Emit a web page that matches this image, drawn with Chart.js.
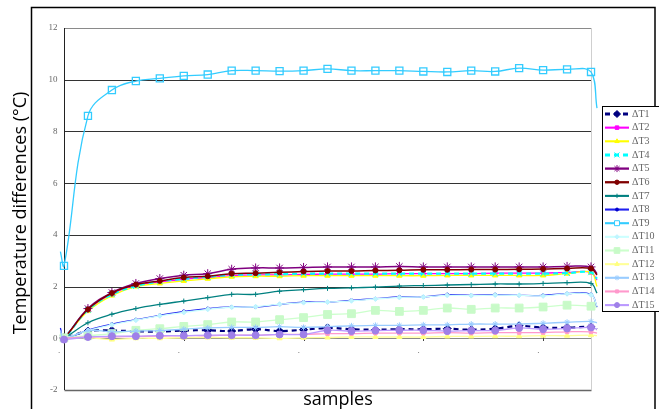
<!DOCTYPE html>
<html>
<head>
<meta charset="utf-8">
<script src="https://cdn.jsdelivr.net/npm/chart.js@4/dist/chart.umd.min.js"></script>
<style>
  html, body { margin: 0; padding: 0; background: #fff; }
  #wrap { width: 659px; height: 409px; }
</style>
</head>
<body>
<div id="wrap"><canvas id="chart" width="659" height="409"></canvas></div>
<script>
// x positions of the samples (index), plus the short lead-in / run-out of the smoothed curves
const samples = Array.from({ length: 23 }, (_, i) => i);
const headX = -0.15;
const tailX = 22.25;

// y axis ticks
const yMin = -2;
const yMax = 12;
const yStep = 2;

// small dot labels under the axis and ticks on the zero line
const xDotTicks = [-0.2, 4.8, 9.8, 14.8, 19.8];
const xZeroTicks = [0, 5, 10, 15, 20];

const seriesNames = ["ΔT1", "ΔT2", "ΔT3", "ΔT4", "ΔT5", "ΔT6", "ΔT7", "ΔT8",
  "ΔT9", "ΔT10", "ΔT11", "ΔT12", "ΔT13", "ΔT14", "ΔT15"];

// values
const dT1 = [0.02, 0.28, 0.3, 0.27, 0.26, 0.3, 0.31, 0.28, 0.35, 0.28, 0.33, 0.4, 0.35, 0.33, 0.35, 0.35, 0.37, 0.33, 0.37, 0.48, 0.41, 0.41, 0.44];
const dT2 = [0, 1.1, 1.72, 2.05, 2.18, 2.28, 2.35, 2.42, 2.45, 2.45, 2.47, 2.48, 2.48, 2.48, 2.5, 2.5, 2.5, 2.5, 2.52, 2.52, 2.52, 2.55, 2.55];
const dT3 = [0, 1.05, 1.65, 2.0, 2.12, 2.22, 2.3, 2.38, 2.4, 2.4, 2.42, 2.42, 2.42, 2.42, 2.42, 2.42, 2.43, 2.43, 2.43, 2.43, 2.43, 2.5, 2.55];
const dT4 = [0, 1.1, 1.7, 2.02, 2.2, 2.3, 2.38, 2.45, 2.47, 2.48, 2.5, 2.5, 2.5, 2.5, 2.5, 2.5, 2.5, 2.5, 2.5, 2.5, 2.5, 2.52, 2.55];
const dT5 = [0, 1.15, 1.77, 2.12, 2.31, 2.44, 2.5, 2.67, 2.72, 2.72, 2.74, 2.76, 2.76, 2.76, 2.78, 2.76, 2.76, 2.76, 2.76, 2.76, 2.76, 2.78, 2.76];
const dT6 = [0, 1.12, 1.75, 2.08, 2.22, 2.35, 2.4, 2.5, 2.52, 2.55, 2.58, 2.6, 2.6, 2.62, 2.63, 2.65, 2.65, 2.66, 2.66, 2.67, 2.68, 2.7, 2.7];
const dT7 = [0, 0.6, 0.93, 1.15, 1.31, 1.44, 1.57, 1.7, 1.7, 1.82, 1.88, 1.93, 1.95, 1.98, 2.02, 2.04, 2.06, 2.08, 2.1, 2.1, 2.12, 2.15, 2.12];
const dT8 = [0, 0.32, 0.55, 0.72, 0.89, 1.04, 1.15, 1.21, 1.21, 1.31, 1.4, 1.4, 1.47, 1.53, 1.6, 1.6, 1.69, 1.66, 1.69, 1.66, 1.66, 1.73, 1.7];
const dT9 = [2.8, 8.6, 9.6, 9.95, 10.05, 10.15, 10.2, 10.35, 10.35, 10.33, 10.35, 10.42, 10.35, 10.35, 10.35, 10.32, 10.3, 10.35, 10.32, 10.45, 10.37, 10.4, 10.3];
const dT10 = [0, 0.3, 0.52, 0.7, 0.87, 1.0, 1.12, 1.2, 1.22, 1.32, 1.38, 1.4, 1.45, 1.52, 1.58, 1.6, 1.66, 1.65, 1.67, 1.66, 1.64, 1.72, 1.68];
const dT11 = [0.02, 0.1, 0.18, 0.31, 0.37, 0.46, 0.53, 0.63, 0.63, 0.72, 0.8, 0.92, 0.95, 1.08, 1.04, 1.08, 1.17, 1.12, 1.17, 1.17, 1.21, 1.28, 1.24];
const dT12 = [0, 0.02, -0.05, 0.0, 0.0, 0.02, 0.03, 0.02, 0.02, 0.0, 0.02, 0.03, 0.05, 0.05, 0.05, 0.05, 0.07, 0.07, 0.08, 0.08, 0.1, 0.1, 0.12];
const dT13 = [0, 0.3, 0.25, 0.28, 0.3, 0.35, 0.4, 0.42, 0.42, 0.45, 0.42, 0.45, 0.48, 0.5, 0.5, 0.52, 0.52, 0.55, 0.55, 0.55, 0.58, 0.62, 0.65];
const dT14 = [0, 0.05, 0.05, 0.07, 0.08, 0.1, 0.1, 0.12, 0.12, 0.15, 0.15, 0.18, 0.18, 0.2, 0.2, 0.2, 0.22, 0.2, 0.22, 0.22, 0.22, 0.25, 0.25];
const dT15 = [-0.05, 0.05, 0.08, 0.08, 0.1, 0.1, 0.12, 0.12, 0.12, 0.15, 0.15, 0.31, 0.28, 0.3, 0.31, 0.31, 0.28, 0.3, 0.3, 0.4, 0.35, 0.38, 0.42];

// start / end values of the curve run-in and run-out
const headValues = [0.15, 0, 0, 0, 0, 0, 0, 0.4, 3.35, 0, 0, 0, 0.3, 0, 0];
const tailValues = [0.35, 2.25, 2.0, 2.3, 2.5, 2.45, 1.75, 1.2, 8.9, 1.25, 1.2, 0.1, 0.6, 0.2, 0.35];

const allSeries = [dT1, dT2, dT3, dT4, dT5, dT6, dT7, dT8, dT9, dT10, dT11, dT12, dT13, dT14, dT15];

// styles
const lineColors = ["#000080", "#FF00FF", "#FFFF00", "#00FFFF", "#800080", "#800000", "#008080", "#2020F0",
  "#33CCFF", "#CCFFFF", "#CCFFCC", "#FFFF99", "#99CCFF", "#FF99CC", "#BB99FF"];
const markerColors = ["#000080", "#FF00FF", "#FFFF00", "#00FFFF", "#800080", "#800000", "#008080", "#0000CC",
  "#33CCFF", "#BFF5FF", "#C8FAC8", "#FFFF80", "#99CCFF", "#FF99CC", "#9F80E8"];
const markerStyles = ["rectRot", "rect", "triangle", "crossRot", "star", "circle", "cross", "circle",
  "rect", "rectRot", "rect", "triangle", "star", "rect", "circle"];
const markerSizes = [4, 2.5, 3, 4, 4.5, 2.5, 2.5, 1.5, 5, 2.5, 5.5, 3, 3, 2.5, 3.5];
const legendMarkerSizes = [3.5, 2.5, 2.5, 3.5, 3.5, 2.2, 2.2, 1.5, 3.5, 2.2, 4, 2.5, 2.5, 2.2, 2.5];
const dashes = [[5, 4], [], [], [5, 4], [], [], [], [], [], [], [], [], [], [], []];
const lineWidths = [2.2, 1.3, 1.3, 2.2, 1.5, 1.5, 1.3, 1.3, 1.3, 1.3, 1.3, 1.3, 1.3, 1.3, 1.3];

function buildPoints(values, head, tail) {
  const pts = [{ x: headX, y: head }];
  values.forEach((v, i) => pts.push({ x: samples[i], y: v }));
  pts.push({ x: tailX, y: tail });
  return pts;
}

const datasets = allSeries.map((values, i) => {
  const radii = [0].concat(values.map(() => markerSizes[i]), [0]);
  const isHollow = i === 8;
  return {
    label: seriesNames[i],
    data: buildPoints(values, headValues[i], tailValues[i]),
    borderColor: lineColors[i],
    borderWidth: lineWidths[i],
    borderDash: dashes[i],
    tension: 0.4,
    pointStyle: markerStyles[i],
    pointRadius: radii,
    pointBackgroundColor: isHollow ? "rgba(255,255,255,0)" : markerColors[i],
    pointBorderColor: markerColors[i],
    pointBorderWidth: isHollow ? 1.3 : 1,
    clip: 10,
    order: 15 - i,
  };
});

// grid lines and axis lines only over the sampled range
const gridPlugin = {
  id: "grid",
  beforeDatasetsDraw(chart) {
    const ctx = chart.ctx;
    const xs = chart.scales.x;
    const ys = chart.scales.y;
    const x0 = Math.round(xs.getPixelForValue(samples[0])) + 0.5;
    const x1 = Math.round(xs.getPixelForValue(samples[samples.length - 1])) + 0.5;
    ctx.save();
    ctx.lineWidth = 1;
    for (let v = yMin; v <= yMax; v += yStep) {
      const py = Math.round(ys.getPixelForValue(v)) + 0.5;
      ctx.strokeStyle = v === 12 || v === 0 ? "#8a8a8a" : v === yMin ? "#666" : "#333";
      ctx.lineWidth = v === yMin ? 1.5 : 1;
      ctx.beginPath();
      ctx.moveTo(x0, py);
      ctx.lineTo(x1, py);
      ctx.stroke();
    }
    // right edge
    ctx.strokeStyle = "#cfcfcf";
    ctx.lineWidth = 1;
    ctx.beginPath();
    ctx.moveTo(x1, ys.getPixelForValue(yMax));
    ctx.lineTo(x1, ys.getPixelForValue(yMin));
    ctx.stroke();
    // left axis
    ctx.strokeStyle = "#222";
    ctx.beginPath();
    ctx.moveTo(x0, ys.getPixelForValue(yMax));
    ctx.lineTo(x0, ys.getPixelForValue(yMin));
    ctx.stroke();
    // ticks on zero line
    ctx.strokeStyle = "#444";
    const y0 = Math.round(ys.getPixelForValue(0));
    xZeroTicks.forEach((v) => {
      const px = Math.round(xs.getPixelForValue(v)) + 0.5;
      ctx.beginPath();
      ctx.moveTo(px, y0 - 2);
      ctx.lineTo(px, y0 + 3);
      ctx.stroke();
    });
    ctx.restore();
  },
};

// frame, titles, legend
const decorPlugin = {
  id: "decor",
  beforeDraw(chart) {
    const ctx = chart.ctx;
    ctx.save();
    ctx.fillStyle = "#fff";
    ctx.fillRect(0, 0, chart.width, chart.height);
    ctx.restore();
  },
  afterDraw(chart) {
    const ctx = chart.ctx;
    const xs = chart.scales.x;
    ctx.save();

    // dot labels
    ctx.fillStyle = "#555";
    ctx.font = "9px 'Liberation Serif'";
    ctx.textAlign = "center";
    ctx.textBaseline = "middle";
    xDotTicks.forEach((v) => {
      ctx.fillText(".", xs.getPixelForValue(v), 351);
    });

    // outer frame
    ctx.strokeStyle = "#000";
    ctx.lineWidth = 1.5;
    ctx.strokeRect(31.5, 7.5, 623.5, 420);

    // axis titles
    ctx.fillStyle = "#000";
    ctx.font = "18px 'Open Sans'";
    ctx.textAlign = "center";
    ctx.textBaseline = "alphabetic";
    ctx.fillText("samples", 338, 405);
    ctx.save();
    ctx.translate(26, 213);
    ctx.rotate(-Math.PI / 2);
    ctx.fillText("Temperature differences (°C)", 0, 0);
    ctx.restore();

    // legend
    const lx = 602, ly = 106, step = 13.65;
    ctx.fillStyle = "#fff";
    ctx.fillRect(lx, ly, 60, 205);
    ctx.strokeStyle = "#000";
    ctx.lineWidth = 1;
    ctx.strokeRect(lx + 0.5, ly + 0.5, 60, 205);
    chart.data.datasets.forEach((ds, i) => {
      const cy = ly + 8 + i * step;
      ctx.strokeStyle = ds.borderColor;
      ctx.lineWidth = Math.max(2, ds.borderWidth + 0.8);
      ctx.setLineDash(ds.borderDash);
      ctx.beginPath();
      ctx.moveTo(605, cy);
      ctx.lineTo(629, cy);
      ctx.stroke();
      ctx.setLineDash([]);
      ctx.fillStyle = i === 8 ? "#fff" : ds.pointBackgroundColor;
      ctx.strokeStyle = ds.pointBorderColor;
      ctx.lineWidth = 1;
      Chart.helpers.drawPoint(ctx, {
        pointStyle: ds.pointStyle,
        radius: legendMarkerSizes[i],
        rotation: 0,
        borderWidth: 1,
      }, 617, cy);
      ctx.fillStyle = "#666";
      ctx.font = "10px 'Liberation Serif'";
      ctx.textAlign = "left";
      ctx.textBaseline = "middle";
      ctx.fillText(ds.label, 632, cy);
    });

    ctx.restore();
  },
};

const ctx = document.getElementById("chart").getContext("2d");
new Chart(ctx, {
  type: "line",
  data: { datasets: datasets },
  options: {
    responsive: false,
    animation: false,
    devicePixelRatio: 1,
    layout: { padding: { left: 0, top: 28, right: 62, bottom: 0 } },
    plugins: {
      legend: { display: false },
      tooltip: { enabled: false },
    },
    scales: {
      x: {
        type: "linear",
        min: headX,
        max: tailX,
        grid: { display: false },
        border: { display: false },
        ticks: { display: false },
        afterFit: (scale) => { scale.height = 19; },
      },
      y: {
        min: yMin,
        max: yMax,
        ticks: {
          stepSize: yStep,
          color: "#666",
          padding: 3,
          font: { family: "'Liberation Serif'", size: 9 },
        },
        grid: { display: false, drawTicks: false },
        border: { display: false },
        afterFit: (scale) => { scale.width = 60.4; },
      },
    },
  },
  plugins: [gridPlugin, decorPlugin],
});
</script>
</body>
</html>
